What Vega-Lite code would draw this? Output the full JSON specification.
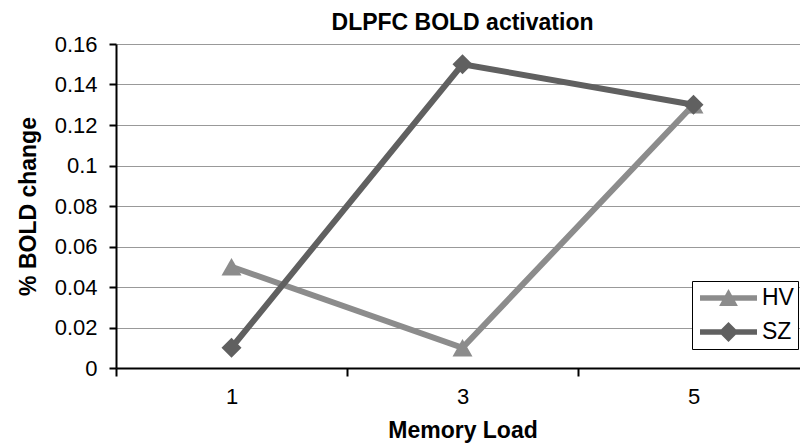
{
  "$schema": "https://vega.github.io/schema/vega-lite/v6.json",
  "width": 693,
  "height": 324,
  "autosize": {"type": "none"},
  "padding": {"left": 116, "top": 44, "right": 0, "bottom": 77},
  "background": "white",
  "config": {"view": {"stroke": null}, "font": "Liberation Sans"},
  "title": {"text": "DLPFC BOLD activation", "fontSize": 23, "font": "Liberation Sans", "fontWeight": "bold", "color": "black", "offset": -2},
  "data": {"values": [
    {"load": "1", "series": "HV", "value": 0.05},
    {"load": "3", "series": "HV", "value": 0.01},
    {"load": "5", "series": "HV", "value": 0.13},
    {"load": "1", "series": "SZ", "value": 0.01},
    {"load": "3", "series": "SZ", "value": 0.15},
    {"load": "5", "series": "SZ", "value": 0.13}
  ]},
  "encoding": {
    "x": {"field": "load", "type": "ordinal",
      "scale": {"type": "band", "paddingInner": 0, "paddingOuter": 0},
      "axis": {"title": "Memory Load", "tickBand": "extent", "labelAngle": 0, "grid": false,
        "domainColor": "black", "domainWidth": 2, "tickColor": "black", "tickWidth": 2, "tickSize": 8,
        "labelFontSize": 22, "labelFont": "Liberation Sans", "labelColor": "black", "labelPadding": 10,
        "titleFontSize": 23, "titleFont": "Liberation Sans", "titleFontWeight": "bold", "titleColor": "black", "titlePadding": 12}},
    "y": {"field": "value", "type": "quantitative",
      "scale": {"domain": [0, 0.16], "nice": false},
      "axis": {"title": "% BOLD change", "values": [0, 0.02, 0.04, 0.06, 0.08, 0.1, 0.12, 0.14, 0.16], "format": "~g",
        "grid": true, "gridColor": {"condition": {"test": "datum.value === 0", "value": "transparent"}, "value": "#999999"}, "gridWidth": 1,
        "domainColor": "black", "domainWidth": 2, "tickColor": "black", "tickWidth": 2, "tickSize": 7,
        "labelFontSize": 22, "labelFont": "Liberation Sans", "labelColor": "black", "labelPadding": 12,
        "titleFontSize": 23, "titleFont": "Liberation Sans", "titleFontWeight": "bold", "titleColor": "black", "titlePadding": 14}}
  },
  "layer": [
    {"mark": {"type": "line", "strokeWidth": 6},
     "encoding": {"color": {"field": "series", "type": "nominal", "scale": {"domain": ["HV", "SZ"], "range": ["#8c8c8c", "#606060"]}, "legend": null}}},
    {"mark": {"type": "point", "filled": true, "size": 400, "opacity": 1},
     "encoding": {"color": {"field": "series", "type": "nominal", "scale": {"domain": ["HV", "SZ"], "range": ["#8c8c8c", "#606060"]}, "legend": null},
       "shape": {"field": "series", "type": "nominal", "scale": {"domain": ["HV", "SZ"], "range": ["triangle-up", "diamond"]}, "legend": null}}},
    {"mark": {"type": "point", "filled": true, "size": 400, "opacity": 0},
     "encoding": {
       "color": {"field": "series", "type": "nominal", "scale": {"domain": ["HV", "SZ"], "range": ["#8c8c8c", "#606060"]},
         "legend": {"title": null, "orient": "none", "legendX": 576, "legendY": 237,
           "fillColor": "white", "strokeColor": "black", "padding": 4, "clipHeight": 26, "symbolOffset": 4,
           "symbolSize": 3249, "symbolOpacity": 1, "symbolStrokeWidth": 0,
           "labelFontSize": 23, "labelFont": "Liberation Sans", "labelColor": "black", "labelOffset": 5, "rowPadding": 8}},
       "shape": {"field": "series", "type": "nominal",
         "scale": {"domain": ["HV", "SZ"], "range": ["M-1,-0.1H1V0.1H-1Z M0,-0.32L0.33,0.28H-0.33Z", "M-1,-0.1H1V0.1H-1Z M0,-0.35L0.35,0L0,0.35L-0.35,0Z"]},
         "legend": {"title": null, "orient": "none", "legendX": 576, "legendY": 237,
           "fillColor": "white", "strokeColor": "black", "padding": 4, "clipHeight": 26, "symbolOffset": 4,
           "symbolSize": 3249, "symbolOpacity": 1, "symbolStrokeWidth": 0,
           "labelFontSize": 23, "labelFont": "Liberation Sans", "labelColor": "black", "labelOffset": 5, "rowPadding": 8}}}}
  ],
  "resolve": {"scale": {"shape": "independent", "color": "independent"}}
}
